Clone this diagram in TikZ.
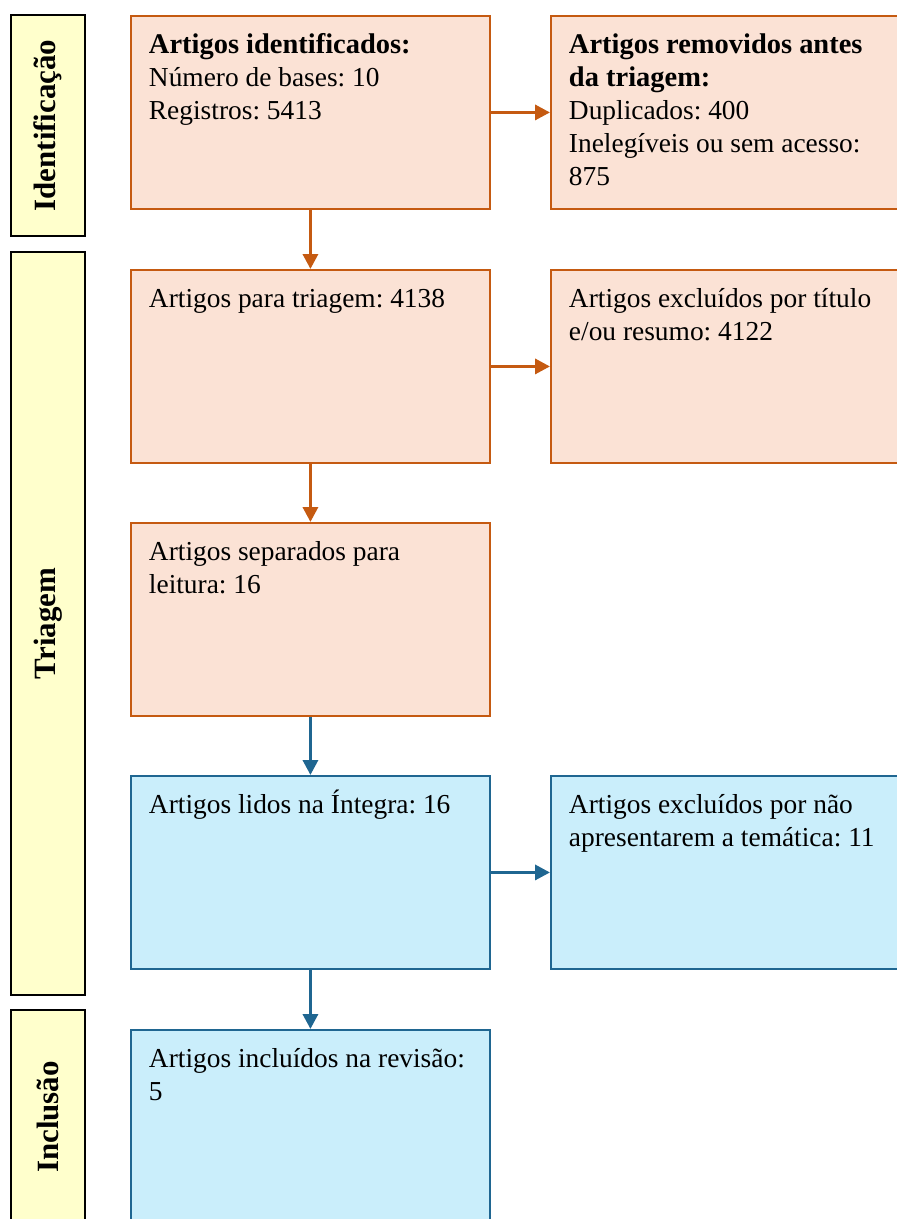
\documentclass[tikz,border=0pt]{standalone}
\usepackage{fontspec}
\setmainfont{Liberation Serif}
\usetikzlibrary{arrows.meta}

\definecolor{laranja}{HTML}{C55A11}
\definecolor{laranjaclaro}{HTML}{FBE2D5}
\definecolor{azul}{HTML}{1F6691}
\definecolor{azulclaro}{HTML}{CAEEFB}
\definecolor{amarelo}{HTML}{FFFFCC}

\frenchspacing
\newcommand{\caixa}[1]{\parbox[t][3.30cm][t]{6.46cm}{\raggedright\strut #1}}
\newcommand{\titulo}[1]{{\fontsize{16.2}{18.8}\selectfont\bfseries #1}}

\tikzset{
  passo/.style={draw, rectangle, line width=1.1pt, anchor=north west,
    inner xsep=0.36cm, inner ysep=0.28cm},
  laranjabox/.style={passo, draw=laranja, fill=laranjaclaro},
  azulbox/.style={passo, draw=azul, fill=azulclaro},
  fase/.style={draw=black, line width=1.4pt, fill=amarelo, rotate=90,
    minimum height=1.48cm, font=\fontsize{17.6}{20}\selectfont\bfseries},
  seta/.style={line width=1.9pt, -{Triangle[length=0.3cm,width=0.3cm]}}
}

\begin{document}
\begin{tikzpicture}[x=0.02cm,y=-0.02cm,font=\fontsize{15.6}{18.8}\selectfont]

  \useasboundingbox (0,0) rectangle (896,1219);

  \node[fase, minimum width=4.42cm] (ident) at (48,125.5) {Identificação};
  \node[fase, minimum width=14.86cm] (triag) at (48,623.5) {Triagem};
  \node[fase, minimum width=4.28cm] (incl) at (48,1117) {Inclusão};

  \node[laranjabox] (b1) at (130,15) {\caixa{\titulo{Artigos identificados:}\\
    Número de bases: 10\\Registros: 5413}};
  \node[laranjabox] (r1) at (550,15) {\caixa{\titulo{Artigos removidos antes}\\
    \titulo{da triagem:}\\Duplicados: 400\\Inelegíveis ou sem acesso:\\875}};
  \node[laranjabox] (b2) at (130,269) {\caixa{Artigos para triagem: 4138}};
  \node[laranjabox] (r2) at (550,269) {\caixa{Artigos excluídos por título\\
    e/ou resumo: 4122}};
  \node[laranjabox] (b3) at (130,522) {\caixa{Artigos separados para\\leitura: 16}};
  \node[azulbox] (b4) at (130,775) {\caixa{Artigos lidos na Íntegra: 16}};
  \node[azulbox] (r4) at (550,775) {\caixa{Artigos excluídos por não\\
    apresentarem a temática: 11}};
  \node[azulbox] (b5) at (130,1029) {\caixa{Artigos incluídos na revisão:\\5}};

  \draw[seta, laranja] (b1) -- (b2);
  \draw[seta, laranja] (b2) -- (b3);
  \draw[seta, azul] (b3) -- (b4);
  \draw[seta, azul] (b4) -- (b5);
  \draw[seta, laranja] (b1) -- (r1);
  \draw[seta, laranja] (b2) -- (r2);
  \draw[seta, azul] (b4) -- (r4);

\end{tikzpicture}
\end{document}
